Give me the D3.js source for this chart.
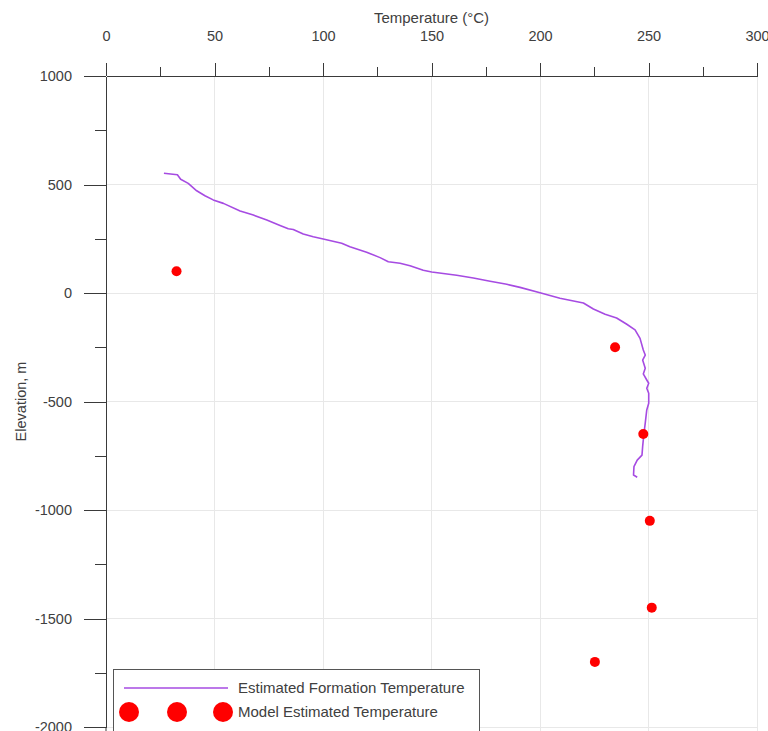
<!DOCTYPE html>
<html>
<head>
<meta charset="utf-8">
<script src="https://cdn.jsdelivr.net/npm/d3@7"></script>
<style>
  html, body { margin: 0; padding: 0; background: #fff; }
  svg { display: block; font-family: "Liberation Sans", Arial, sans-serif; }
</style>
</head>
<body>
<svg id="chart" width="768" height="731"></svg>
<script>
// Estimated formation temperature profile (temperature °C, elevation m)
const formationTemp = [26.7, 32.9, 34.4, 37.9, 41.8, 45.6, 49.4, 54.1, 61.8, 67.9, 74.1, 80.2, 84.0, 86.3, 90.9, 95.5, 100.1, 108.6, 112.4, 120.1, 126.3, 130.1, 135.5, 140.1, 146.2, 150.1, 161.6, 169.3, 177.0, 184.7, 190.8, 200.0, 209.2, 220.0, 224.6, 230.0, 235.3, 240.0, 243.8, 246.1, 247.6, 248.5, 247.3, 248.5, 247.6, 249.2, 250.1, 249.2, 250.1, 250.1, 249.2, 248.5, 247.9, 247.3, 247.0, 244.8, 243.3, 243.1, 244.8];
const formationElev = [552, 545, 524, 505, 471, 448, 429, 413, 378, 359, 336, 311, 296, 293, 272, 259, 249, 229, 213, 188, 163, 144, 137, 126, 105, 97, 82, 69, 54, 40, 26, 1, -24, -46, -74, -98, -115, -144, -170, -209, -263, -286, -309, -347, -373, -401, -416, -439, -462, -508, -539, -600, -647, -708, -747, -770, -800, -839, -849];

// Model estimated temperatures
const modelTemp = [32.5, 234.6, 247.6, 250.6, 251.5, 225.3];
const modelElev = [100, -250, -650, -1050, -1450, -1700];

// Axis ticks
const xMajorTicks = [0, 50, 100, 150, 200, 250, 300];
const xMinorTicks = [25, 75, 125, 175, 225, 275];
const yMajorTicks = [1000, 500, 0, -500, -1000, -1500, -2000];
const yMinorTicks = [750, 250, -250, -750, -1250, -1750];

const legendLabels = ["Estimated Formation Temperature", "Model Estimated Temperature"];

const lineColor = "#a64be2";
const dotColor = "#ff0000";
const axisColor = "#3a3a3a";
const textColor = "#404040";
const gridColor = "#e8e8e8";

const svg = d3.select("#chart");
const plotLeft = 106, plotRight = 757, plotTop = 76, plotBottom = 727;

const x = d3.scaleLinear().domain([0, 300]).range([plotLeft, plotRight]);
const y = d3.scaleLinear().domain([1000, -2000]).range([plotTop, plotBottom]);

// plain hyphen for negatives
const fmt = d => String(d);

// Grid lines
const grid = svg.append("g");
grid.selectAll("line.vx").data(xMajorTicks.filter(d => d !== 0)).join("line")
  .attr("x1", d => x(d)).attr("x2", d => x(d))
  .attr("y1", plotTop).attr("y2", 731)
  .attr("stroke", gridColor).attr("stroke-width", 1).attr("shape-rendering", "crispEdges");
grid.selectAll("line.hy").data(yMajorTicks.filter(d => d !== 1000)).join("line")
  .attr("x1", plotLeft).attr("x2", plotRight)
  .attr("y1", d => y(d)).attr("y2", d => y(d))
  .attr("stroke", gridColor).attr("stroke-width", 1).attr("shape-rendering", "crispEdges");

// Top (temperature) axis
svg.append("g").attr("transform", `translate(0,${plotTop})`)
  .call(d3.axisTop(x).tickValues(xMajorTicks).tickSize(13).tickSizeOuter(0).tickPadding(22).tickFormat(fmt));
svg.append("g").attr("transform", `translate(0,${plotTop})`)
  .call(d3.axisTop(x).tickValues(xMinorTicks).tickSize(9).tickSizeOuter(0).tickFormat(""))
  .select(".domain").remove();

// Left (elevation) axis
svg.append("g").attr("transform", `translate(${plotLeft},0)`)
  .call(d3.axisLeft(y).tickValues(yMajorTicks).tickSize(22).tickSizeOuter(0).tickPadding(12).tickFormat(fmt));
svg.append("g").attr("transform", `translate(${plotLeft},0)`)
  .call(d3.axisLeft(y).tickValues(yMinorTicks).tickSize(11).tickSizeOuter(0).tickFormat(""))
  .select(".domain").remove();
// axis line continues past the last tick
svg.append("line").attr("x1", plotLeft).attr("x2", plotLeft).attr("y1", plotBottom).attr("y2", 731)
  .attr("stroke", axisColor);

svg.selectAll(".domain, .tick line").attr("stroke", axisColor).attr("shape-rendering", "crispEdges");
svg.selectAll(".tick text").attr("fill", textColor).style("font-size", "14.5px")
  .style("font-family", "'Liberation Sans', Arial, sans-serif");

// Axis titles
svg.append("text").attr("x", (plotLeft + plotRight) / 2).attr("y", 23)
  .attr("text-anchor", "middle").attr("fill", textColor).style("font-size", "15px")
  .text("Temperature (°C)");
svg.append("text").attr("transform", `translate(26,${(plotTop + plotBottom) / 2}) rotate(-90)`)
  .attr("text-anchor", "middle").attr("fill", textColor).style("font-size", "14.5px")
  .text("Elevation, m");

// Formation temperature line
const profile = formationTemp.map((t, i) => [t, formationElev[i]]);
svg.append("path").datum(profile)
  .attr("fill", "none").attr("stroke", lineColor).attr("stroke-width", 1.6)
  .attr("stroke-linejoin", "round")
  .attr("d", d3.line().x(d => x(d[0])).y(d => y(d[1])));

// Model points
svg.append("g").selectAll("circle")
  .data(modelTemp.map((t, i) => [t, modelElev[i]]))
  .join("circle")
  .attr("cx", d => x(d[0])).attr("cy", d => y(d[1])).attr("r", 5)
  .attr("fill", dotColor);

// Legend
const lg = svg.append("g");
lg.append("rect").attr("x", 113.5).attr("y", 669.5).attr("width", 366).attr("height", 80)
  .attr("fill", "#fff").attr("stroke", "#555").attr("stroke-width", 1);
lg.append("line").attr("x1", 124).attr("x2", 228).attr("y1", 688).attr("y2", 688)
  .attr("stroke", lineColor).attr("stroke-width", 1.6);
lg.selectAll("circle").data([129, 177, 223]).join("circle")
  .attr("cx", d => d).attr("cy", 712).attr("r", 10).attr("fill", dotColor);
lg.selectAll("text").data(legendLabels).join("text")
  .attr("x", 238).attr("y", (d, i) => 693 + i * 24)
  .attr("fill", textColor).style("font-size", "15px")
  .text(d => d);
</script>
</body>
</html>
